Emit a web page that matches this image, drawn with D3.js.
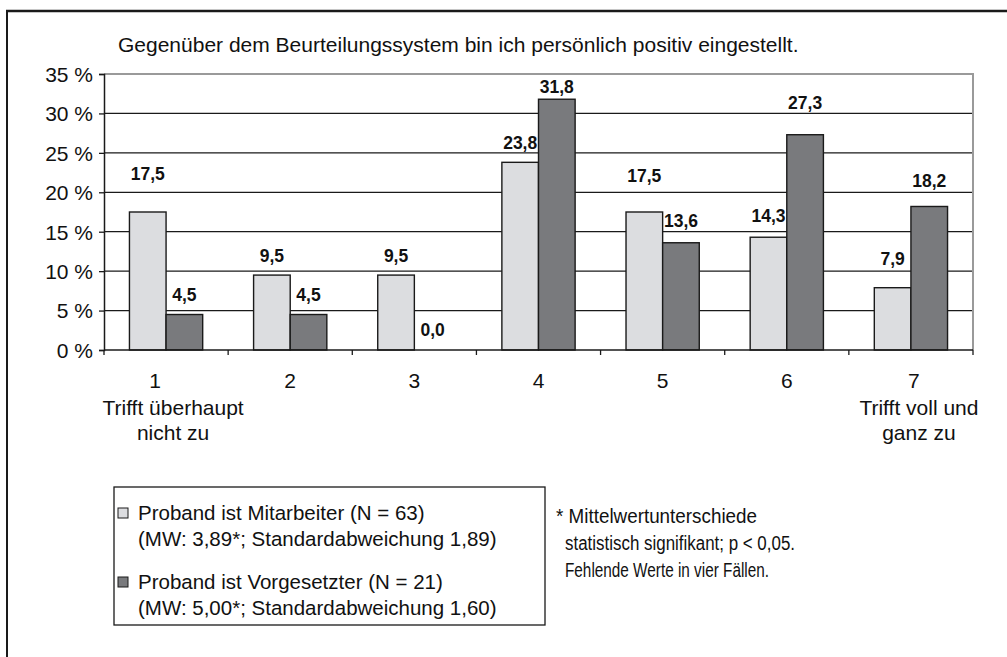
<!DOCTYPE html>
<html>
<head>
<meta charset="utf-8">
<script src="https://cdn.jsdelivr.net/npm/d3@7"></script>
<style>
  body { margin: 0; background: #fff; }
  svg { display: block; }
  text { font-family: "Liberation Sans", Arial, sans-serif; fill: #111; }
</style>
</head>
<body>
<svg id="chart" width="1007" height="657"></svg>
<script>
// ---- data ----
const title = "Gegenüber dem Beurteilungssystem bin ich persönlich positiv eingestellt.";
const categories = ["1", "2", "3", "4", "5", "6", "7"];
const seriesKeys = ["mitarbeiter", "vorgesetzter"];
const mitarbeiter = [17.5, 9.5, 9.5, 23.8, 17.5, 14.3, 7.9];
const vorgesetzter = [4.5, 4.5, 0.0, 31.8, 13.6, 27.3, 18.2];
const yTickValues = [0, 5, 10, 15, 20, 25, 30, 35];
const lowAnchor = ["Trifft überhaupt", "nicht zu"];
const highAnchor = ["Trifft voll und", "ganz zu"];
const legendMitarbeiter = ["Proband ist Mitarbeiter (N = 63)", "(MW: 3,89*; Standardabweichung 1,89)"];
const legendVorgesetzter = ["Proband ist Vorgesetzter (N = 21)", "(MW: 5,00*; Standardabweichung 1,60)"];
const noteLines = ["* Mittelwertunterschiede", "statistisch signifikant; p < 0,05.", "Fehlende Werte in vier Fällen."];

// ---- layout ----
const liftMitarbeiter = [32, 13, 13, 13, 30, 15, 23];   // label gap above bar top
const liftVorgesetzter = [13.5, 13.5, 14, 6, 16, 26, 19.5];
const noteWidths = [201, 230, 204];                     // condensed note lines
const plot = { left: 104, right: 973, top: 74, bottom: 350 };
const fills = { mitarbeiter: "#dcdde0", vorgesetzter: "#797a7d" };
const ink = "#1a1a1a";

const svg = d3.select("#chart");
svg.append("rect").attr("width", 1007).attr("height", 657).attr("fill", "#fff");

// outer frame (top and left edges)
svg.append("line").attr("x1", 6).attr("x2", 1007).attr("y1", 11).attr("y2", 11)
  .attr("stroke", ink).attr("stroke-width", 2.5);
svg.append("line").attr("x1", 7).attr("x2", 7).attr("y1", 10).attr("y2", 657)
  .attr("stroke", ink).attr("stroke-width", 2);

svg.append("text").attr("x", 118).attr("y", 52)
  .style("font-size", "21px").text(title);

// ---- scales ----
const x0 = d3.scaleBand().domain(categories).range([plot.left, plot.right]).padding(0);
const bw = x0.bandwidth();
const x1 = d3.scaleBand().domain(seriesKeys).range([bw * 0.205, bw * 0.795]).padding(0);
const y = d3.scaleLinear().domain([0, 35]).range([plot.bottom, plot.top]);

// gridlines
svg.append("g").selectAll("line").data(yTickValues.filter(v => v > 0 && v < 35)).join("line")
  .attr("x1", plot.left).attr("x2", plot.right)
  .attr("y1", d => y(d)).attr("y2", d => y(d))
  .attr("stroke", ink).attr("stroke-width", 1.2);

// plot area border (top/right in grey)
svg.append("path")
  .attr("d", `M${plot.left},${y(35)}H${plot.right}V${plot.bottom}`)
  .attr("fill", "none").attr("stroke", "#9a9a9a").attr("stroke-width", 2);

// bars
const rows = categories.map((c, i) => ({
  cat: c,
  vals: [
    { key: "mitarbeiter", v: mitarbeiter[i], lift: liftMitarbeiter[i] },
    { key: "vorgesetzter", v: vorgesetzter[i], lift: liftVorgesetzter[i] }
  ]
}));

const groups = svg.append("g").selectAll("g").data(rows).join("g")
  .attr("transform", d => `translate(${x0(d.cat)},0)`);

groups.selectAll("rect").data(d => d.vals.filter(e => e.v > 0)).join("rect")
  .attr("x", d => x1(d.key))
  .attr("width", x1.bandwidth())
  .attr("y", d => y(d.v))
  .attr("height", d => y(0) - y(d.v))
  .attr("fill", d => fills[d.key])
  .attr("stroke", ink).attr("stroke-width", 1.4);

groups.selectAll("text").data(d => d.vals).join("text")
  .attr("x", d => x1(d.key) + x1.bandwidth() / 2)
  .attr("y", d => y(d.v) - d.lift)
  .attr("text-anchor", "middle")
  .style("font-size", "17.5px").style("font-weight", "bold")
  .text(d => d3.format(".1f")(d.v).replace(".", ","));

// y axis
const yAxis = d3.axisLeft(y).tickValues(yTickValues).tickSize(5).tickPadding(6)
  .tickFormat(d => d + " %");
const gy = svg.append("g").attr("transform", `translate(${plot.left},0)`).call(yAxis);
gy.select(".domain").attr("stroke", ink).attr("stroke-width", 1.5);
gy.selectAll(".tick line").attr("stroke", ink).attr("stroke-width", 1.3);
gy.selectAll(".tick text").style("font-size", "21px").attr("fill", "#111")
  .style("font-family", "'Liberation Sans', Arial, sans-serif").attr("dy", "0.35em");

// x axis: ticks at category boundaries
const boundaries = categories.map(c => x0(c)).concat([plot.right]);
svg.append("line").attr("x1", plot.left).attr("x2", plot.right)
  .attr("y1", plot.bottom).attr("y2", plot.bottom)
  .attr("stroke", ink).attr("stroke-width", 1.5);
svg.append("g").selectAll("line").data(boundaries).join("line")
  .attr("x1", d => d).attr("x2", d => d)
  .attr("y1", plot.bottom).attr("y2", plot.bottom + 5)
  .attr("stroke", ink).attr("stroke-width", 1.3);

// category numbers
const numberShift = [-11, 0, 0, 0, 0, 0, 3];
svg.append("g").selectAll("text").data(categories).join("text")
  .attr("x", (d, i) => x0(d) + bw / 2 + numberShift[i])
  .attr("y", 388)
  .attr("text-anchor", "middle")
  .style("font-size", "21px")
  .text(d => d);

// scale anchors below first and last category
function anchorText(lines, cx) {
  svg.append("g").selectAll("text").data(lines).join("text")
    .attr("x", cx).attr("y", (d, i) => 415 + i * 25)
    .attr("text-anchor", "middle")
    .style("font-size", "21px")
    .text(d => d);
}
anchorText(lowAnchor, x0(categories[0]) + bw / 2 + 7);
anchorText(highAnchor, x0(categories[6]) + bw / 2 + 8);

// legend
const legend = svg.append("g");
legend.append("rect").attr("x", 114).attr("y", 487).attr("width", 431).attr("height", 138)
  .attr("fill", "#fff").attr("stroke", ink).attr("stroke-width", 1.3);
const legendItems = [
  { key: "mitarbeiter", lines: legendMitarbeiter, y: 520 },
  { key: "vorgesetzter", lines: legendVorgesetzter, y: 589 }
];
legendItems.forEach(item => {
  legend.append("rect").attr("x", 118).attr("y", item.y - 12).attr("width", 10).attr("height", 10)
    .attr("fill", fills[item.key]).attr("stroke", ink).attr("stroke-width", 1);
  legend.append("g").selectAll("text").data(item.lines).join("text")
    .attr("x", 138).attr("y", (d, i) => item.y + i * 26)
    .style("font-size", "20.5px")
    .text(d => d);
});

// note on significance
svg.append("g").selectAll("text").data(noteLines).join("text")
  .attr("x", (d, i) => i === 0 ? 556 : 565)
  .attr("y", (d, i) => 523 + i * 27)
  .attr("textLength", (d, i) => noteWidths[i])
  .attr("lengthAdjust", "spacingAndGlyphs")
  .style("font-size", "20px")
  .text(d => d);
</script>
</body>
</html>
